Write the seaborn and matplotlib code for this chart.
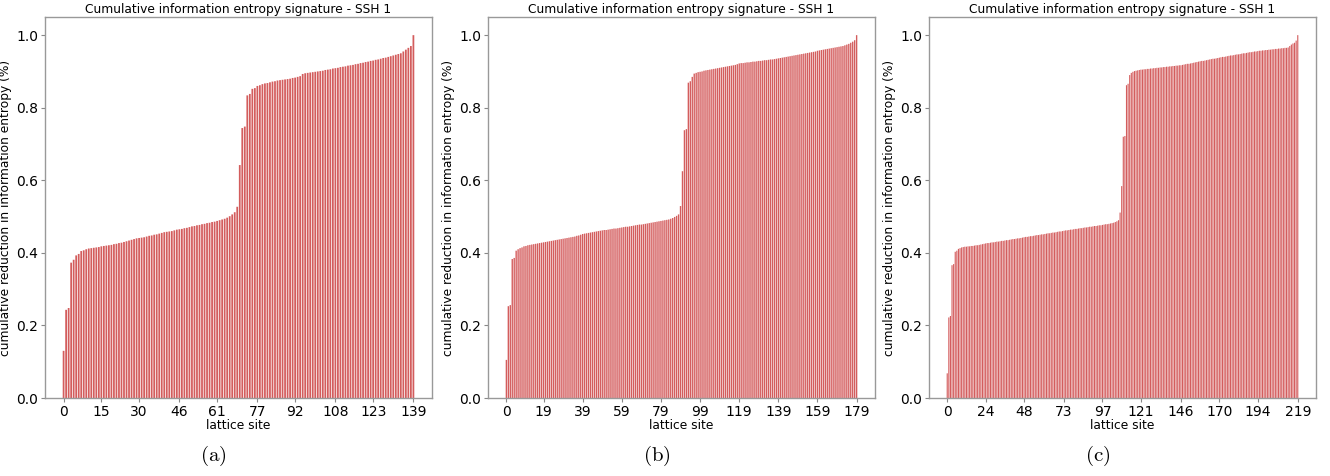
import numpy as np
import seaborn as sns
import matplotlib.pyplot as plt

# cumulative reduction in information entropy per lattice site
entropy_a = [
    0.130, 0.243, 0.248, 0.373, 0.381, 0.393, 0.397, 0.405, 0.407, 0.410,
    0.412, 0.413, 0.414, 0.415, 0.416, 0.418, 0.419, 0.420, 0.421, 0.422,
    0.424, 0.425, 0.427, 0.428, 0.430, 0.432, 0.434, 0.436, 0.438, 0.440,
    0.441, 0.442, 0.443, 0.445, 0.447, 0.448, 0.450, 0.451, 0.453, 0.455,
    0.457, 0.458, 0.459, 0.460, 0.462, 0.464, 0.465, 0.466, 0.468, 0.469,
    0.471, 0.473, 0.474, 0.476, 0.477, 0.479, 0.480, 0.482, 0.483, 0.485,
    0.486, 0.488, 0.490, 0.492, 0.494, 0.497, 0.501, 0.506, 0.512, 0.527,
    0.642, 0.744, 0.748, 0.834, 0.838, 0.852, 0.854, 0.860, 0.862, 0.865,
    0.867, 0.868, 0.870, 0.872, 0.873, 0.875, 0.876, 0.877, 0.878, 0.879,
    0.880, 0.882, 0.883, 0.885, 0.887, 0.893, 0.895, 0.896, 0.897, 0.898,
    0.899, 0.900, 0.901, 0.902, 0.904, 0.905, 0.906, 0.908, 0.909, 0.910,
    0.912, 0.913, 0.914, 0.916, 0.917, 0.918, 0.920, 0.921, 0.923, 0.924,
    0.926, 0.927, 0.929, 0.930, 0.932, 0.933, 0.935, 0.937, 0.938, 0.940,
    0.942, 0.944, 0.946, 0.948, 0.950, 0.955, 0.960, 0.965, 0.970, 1.000,
]

entropy_b = [
    0.105, 0.253, 0.256, 0.383, 0.386, 0.406, 0.410, 0.413, 0.415, 0.418,
    0.419, 0.421, 0.422, 0.423, 0.424, 0.425, 0.426, 0.427, 0.428, 0.429,
    0.430, 0.431, 0.432, 0.433, 0.434, 0.435, 0.436, 0.437, 0.438, 0.439,
    0.440, 0.441, 0.442, 0.443, 0.444, 0.445, 0.447, 0.448, 0.450, 0.452,
    0.453, 0.454, 0.455, 0.456, 0.457, 0.458, 0.459, 0.460, 0.461, 0.462,
    0.463, 0.463, 0.464, 0.465, 0.466, 0.467, 0.467, 0.468, 0.469, 0.470,
    0.471, 0.472, 0.472, 0.473, 0.474, 0.475, 0.476, 0.477, 0.478, 0.478,
    0.479, 0.480, 0.481, 0.482, 0.483, 0.484, 0.485, 0.486, 0.487, 0.488,
    0.489, 0.490, 0.491, 0.492, 0.494, 0.496, 0.499, 0.502, 0.506, 0.529,
    0.625, 0.738, 0.741, 0.869, 0.873, 0.885, 0.894, 0.896, 0.898, 0.899,
    0.900, 0.902, 0.903, 0.904, 0.905, 0.906, 0.907, 0.908, 0.909, 0.910,
    0.911, 0.912, 0.913, 0.914, 0.915, 0.916, 0.917, 0.918, 0.920, 0.922,
    0.923, 0.923, 0.924, 0.925, 0.925, 0.926, 0.927, 0.927, 0.928, 0.929,
    0.929, 0.930, 0.931, 0.931, 0.932, 0.933, 0.933, 0.934, 0.935, 0.936,
    0.937, 0.938, 0.939, 0.940, 0.941, 0.942, 0.943, 0.944, 0.945, 0.946,
    0.947, 0.948, 0.949, 0.950, 0.951, 0.952, 0.953, 0.954, 0.955, 0.957,
    0.958, 0.959, 0.960, 0.961, 0.962, 0.963, 0.964, 0.965, 0.966, 0.967,
    0.968, 0.969, 0.970, 0.972, 0.974, 0.976, 0.979, 0.982, 0.986, 1.000,
]

entropy_c = [
    0.068, 0.222, 0.226, 0.366, 0.369, 0.403, 0.406, 0.411, 0.413, 0.415,
    0.416, 0.417, 0.417, 0.418, 0.418, 0.419, 0.419, 0.420, 0.421, 0.421,
    0.422, 0.423, 0.424, 0.425, 0.426, 0.427, 0.427, 0.428, 0.429, 0.429,
    0.430, 0.431, 0.431, 0.432, 0.433, 0.433, 0.434, 0.435, 0.435, 0.436,
    0.437, 0.438, 0.438, 0.439, 0.440, 0.440, 0.441, 0.442, 0.443, 0.444,
    0.444, 0.445, 0.446, 0.446, 0.447, 0.448, 0.449, 0.449, 0.450, 0.451,
    0.451, 0.452, 0.453, 0.454, 0.454, 0.455, 0.456, 0.456, 0.457, 0.458,
    0.459, 0.459, 0.460, 0.461, 0.462, 0.462, 0.463, 0.464, 0.464, 0.465,
    0.466, 0.466, 0.467, 0.468, 0.468, 0.469, 0.470, 0.470, 0.471, 0.472,
    0.472, 0.473, 0.474, 0.474, 0.475, 0.476, 0.476, 0.477, 0.478, 0.479,
    0.479, 0.480, 0.481, 0.482, 0.483, 0.485, 0.487, 0.490, 0.511, 0.584,
    0.720, 0.722, 0.862, 0.866, 0.890, 0.896, 0.899, 0.901, 0.902, 0.903,
    0.904, 0.905, 0.905, 0.906, 0.906, 0.907, 0.907, 0.908, 0.908, 0.909,
    0.909, 0.910, 0.910, 0.911, 0.911, 0.912, 0.912, 0.913, 0.913, 0.914,
    0.914, 0.915, 0.915, 0.916, 0.916, 0.917, 0.917, 0.918, 0.919, 0.920,
    0.921, 0.921, 0.922, 0.923, 0.924, 0.925, 0.926, 0.927, 0.928, 0.929,
    0.929, 0.930, 0.931, 0.932, 0.933, 0.934, 0.935, 0.935, 0.936, 0.937,
    0.938, 0.939, 0.940, 0.940, 0.941, 0.942, 0.943, 0.944, 0.944, 0.945,
    0.946, 0.947, 0.947, 0.948, 0.949, 0.950, 0.950, 0.951, 0.952, 0.953,
    0.953, 0.954, 0.955, 0.955, 0.956, 0.957, 0.957, 0.958, 0.958, 0.959,
    0.959, 0.960, 0.960, 0.961, 0.961, 0.962, 0.962, 0.963, 0.963, 0.964,
    0.964, 0.965, 0.965, 0.966, 0.970, 0.974, 0.977, 0.979, 0.985, 1.000,
]

panels = [entropy_a, entropy_b, entropy_c]
panel_tags = ["a", "b", "c"]
title = "Cumulative information entropy signature - SSH 1"

sns.set_style("white")
plt.rcParams["mathtext.fontset"] = "cm"
plt.rcParams["text.color"] = "black"
plt.rcParams["axes.labelcolor"] = "black"
plt.rcParams["xtick.color"] = "black"
plt.rcParams["ytick.color"] = "black"

fig = plt.figure(figsize=(13.3, 4.76), dpi=100)
axes_left = [45, 488, 929]
ax_w, ax_bottom, ax_h = 387, 78, 381

for k, vals in enumerate(panels):
    n = len(vals)
    ax = fig.add_axes([axes_left[k] / 1330, ax_bottom / 476, ax_w / 1330, ax_h / 476])
    sites = np.arange(n)
    sns.barplot(x=sites, y=vals, ax=ax, color="tab:red", saturation=0.85,
                alpha=0.8, width=0.7, edgecolor="none")
    # no pixel snapping -> smooth striped look like the original
    for p in ax.patches:
        p.set_snap(False)
    pad = 0.05 * (n - 1 + 0.8) + 0.4
    ax.set_xlim(-pad, n - 1 + pad)
    ax.set_ylim(0, 1.05)
    ticks = np.linspace(0, n - 1, 10).astype(int)
    ax.set_xticks(ticks)
    ax.set_xticklabels([str(t) for t in ticks])
    ax.set_yticks([0, 0.2, 0.4, 0.6, 0.8, 1.0])
    ax.tick_params(axis="both", labelsize=10, length=3, width=0.8, pad=2,
                   color="#888888", bottom=True, left=True)
    for sp in ax.spines.values():
        sp.set_color("#999999")
        sp.set_linewidth(1)
    ax.set_title(title, fontsize=8.8, pad=3)
    ax.set_xlabel("lattice site", fontsize=8.8, labelpad=0)
    ax.set_ylabel("cumulative reduction in information entropy (%)", fontsize=8.8,
                  labelpad=3)
    cx = (axes_left[k] + ax_w / 2 - 25) / 1330
    fig.text(cx, 20 / 476, r"$(\mathrm{%s})$" % panel_tags[k], fontsize=15,
             ha="center", va="center")

fig.savefig("out.png", dpi=100)
